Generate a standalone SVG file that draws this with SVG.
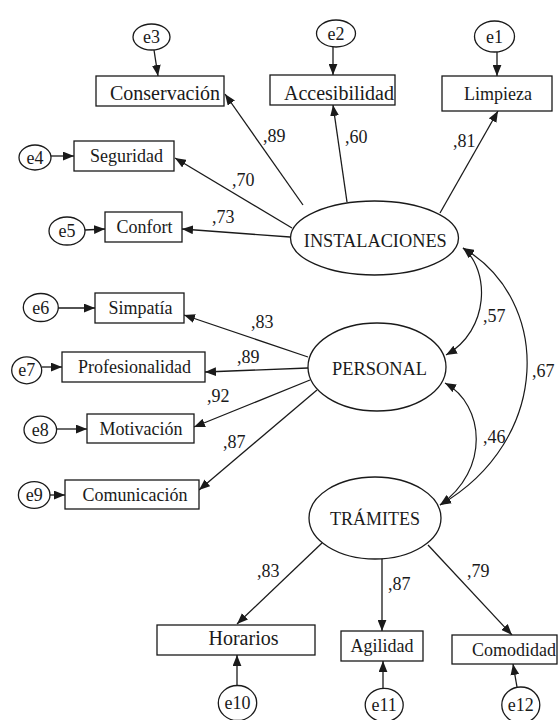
<svg xmlns="http://www.w3.org/2000/svg" width="558" height="720" viewBox="0 0 558 720" font-family="'Liberation Serif', Tinos, 'Times New Roman', 'DejaVu Serif', serif">
<style>
text{font-family:'Liberation Serif',Tinos,'Times New Roman','DejaVu Serif',serif;font-size:18px;fill:#1a1a1a}
.c{text-anchor:middle}
.big{font-size:20px}
.cap{font-size:19.5px}
.b{fill:#fff;stroke:#1a1a1a;stroke-width:1.3}
.l{fill:none;stroke:#1a1a1a;stroke-width:1.3;marker-end:url(#ah)}
.d{fill:none;stroke:#1a1a1a;stroke-width:1.2;marker-end:url(#ah);marker-start:url(#ah)}
</style>
<defs>
<marker id="ah" viewBox="0 0 10 8" refX="10" refY="4" markerWidth="11" markerHeight="9" markerUnits="userSpaceOnUse" orient="auto-start-reverse">
<path d="M0,0 L10,4 L0,8 Z" fill="#1a1a1a"/>
</marker>
</defs>
<g id="connectors">
<line class="l" x1="303" y1="205" x2="225" y2="94"/>
<line class="l" x1="347" y1="202" x2="333" y2="105"/>
<line class="l" x1="440" y1="213" x2="498" y2="111"/>
<line class="l" x1="292" y1="228" x2="175" y2="158"/>
<line class="l" x1="290" y1="237" x2="182" y2="229"/>
<line class="l" x1="308" y1="357" x2="184" y2="315"/>
<line class="l" x1="308" y1="368" x2="205" y2="372"/>
<line class="l" x1="310" y1="380" x2="194" y2="427"/>
<line class="l" x1="317" y1="390" x2="199" y2="490"/>
<line class="l" x1="322" y1="543" x2="237" y2="624"/>
<line class="l" x1="382" y1="558" x2="382" y2="631"/>
<line class="l" x1="428" y1="545" x2="512" y2="635"/>
<line class="l" x1="154" y1="50" x2="158" y2="76"/>
<line class="l" x1="333" y1="47" x2="333" y2="75"/>
<line class="l" x1="497" y1="52" x2="497" y2="76"/>
<line class="l" x1="51" y1="156" x2="74" y2="156"/>
<line class="l" x1="85" y1="230" x2="105" y2="229"/>
<line class="l" x1="58" y1="308" x2="95" y2="308"/>
<line class="l" x1="42" y1="367" x2="62" y2="367"/>
<line class="l" x1="57" y1="429" x2="87" y2="429"/>
<line class="l" x1="50" y1="495" x2="65" y2="495"/>
<line class="l" x1="237" y1="685" x2="237" y2="655"/>
<line class="l" x1="383" y1="688" x2="383" y2="661"/>
<line class="l" x1="517" y1="687" x2="513" y2="664"/>
<path class="d" d="M463,248 C490,270 490,330 446,355"/>
<path class="d" d="M463,248 C552,300 552,440 440,505"/>
<path class="d" d="M445,383 C485,405 490,470 440,505"/>
<text x="263" y="142">,89</text>
<text x="345" y="143">,60</text>
<text x="453" y="147">,81</text>
<text x="232" y="186">,70</text>
<text x="212" y="223">,73</text>
<text x="251" y="328">,83</text>
<text x="237" y="363">,89</text>
<text x="207" y="402">,92</text>
<text x="223" y="448">,87</text>
<text x="483" y="322">,57</text>
<text x="532" y="377">,67</text>
<text x="483" y="443">,46</text>
<text x="257" y="577">,83</text>
<text x="388" y="590">,87</text>
<text x="467" y="577">,79</text>
</g>
<g id="INSTALACIONES"><ellipse class="b" cx="374.5" cy="238" rx="84" ry="37"/><text class="c cap" x="375.3" y="246.5" textLength="143" lengthAdjust="spacingAndGlyphs">INSTALACIONES</text></g>
<g id="PERSONAL"><ellipse class="b" cx="377" cy="367" rx="69" ry="44"/><text class="c cap" x="379.5" y="374.5" textLength="95" lengthAdjust="spacingAndGlyphs">PERSONAL</text></g>
<g id="TRAMITES"><ellipse class="b" cx="375" cy="518" rx="66" ry="41"/><text class="c cap" x="375" y="525" textLength="90" lengthAdjust="spacingAndGlyphs">TRÁMITES</text></g>
<g id="Conservacion"><rect class="b" x="96" y="76" width="128" height="30"/><text class="c big" x="165" y="100">Conservación</text></g>
<g id="Accesibilidad"><rect class="b" x="270" y="75" width="125" height="30"/><text class="c big" x="339" y="99.5">Accesibilidad</text></g>
<g id="Limpieza"><rect class="b" x="442" y="76" width="110" height="35"/><text class="c" x="498" y="100">Limpieza</text></g>
<g id="Seguridad"><rect class="b" x="74" y="141" width="100" height="30"/><text class="c" x="126.5" y="162">Seguridad</text></g>
<g id="Confort"><rect class="b" x="105" y="212" width="77" height="30"/><text class="c" x="144.5" y="233">Confort</text></g>
<g id="Simpatia"><rect class="b" x="95" y="293" width="89" height="30"/><text class="c" x="140.5" y="314">Simpatía</text></g>
<g id="Profesionalidad"><rect class="b" x="62" y="352" width="143" height="30"/><text class="c" x="134.5" y="373">Profesionalidad</text></g>
<g id="Motivacion"><rect class="b" x="87" y="414" width="107" height="29"/><text class="c" x="141" y="434.5">Motivación</text></g>
<g id="Comunicacion"><rect class="b" x="65" y="480" width="134" height="29"/><text class="c" x="135" y="500.5">Comunicación</text></g>
<g id="Horarios"><rect class="b" x="157" y="625" width="158" height="30"/><text class="c big" x="243.5" y="644.5">Horarios</text></g>
<g id="Agilidad"><rect class="b" x="341" y="631" width="82" height="30"/><text class="c" x="382" y="652">Agilidad</text></g>
<g id="Comodidad"><rect class="b" x="452" y="635" width="105" height="29"/><text class="c" x="514" y="655.5">Comodidad</text></g>
<g id="e1"><ellipse class="b" cx="494.5" cy="36.5" rx="20" ry="15.5"/><text class="c" x="494.5" y="42.5">e1</text></g>
<g id="e2"><ellipse class="b" cx="336" cy="33.5" rx="19.5" ry="13.5"/><text class="c" x="336" y="39.5">e2</text></g>
<g id="e3"><ellipse class="b" cx="151.5" cy="37" rx="18.5" ry="13"/><text class="c" x="151.5" y="43">e3</text></g>
<g id="e4"><ellipse class="b" cx="35" cy="157.5" rx="16" ry="12.5"/><text class="c" x="35" y="163.5">e4</text></g>
<g id="e5"><ellipse class="b" cx="67" cy="231" rx="18" ry="14"/><text class="c" x="67" y="237">e5</text></g>
<g id="e6"><ellipse class="b" cx="40.8" cy="307.5" rx="17.5" ry="14"/><text class="c" x="40.8" y="313.5">e6</text></g>
<g id="e7"><ellipse class="b" cx="26.7" cy="370.3" rx="15" ry="13.5"/><text class="c" x="26.7" y="376.3">e7</text></g>
<g id="e8"><ellipse class="b" cx="40.3" cy="429.7" rx="16.3" ry="13.5"/><text class="c" x="40.3" y="435.7">e8</text></g>
<g id="e9"><ellipse class="b" cx="34.2" cy="495" rx="15.8" ry="13.3"/><text class="c" x="34.2" y="501">e9</text></g>
<g id="e10"><ellipse class="b" cx="237.5" cy="703" rx="19.2" ry="17.5"/><text class="c" x="237.5" y="709">e10</text></g>
<g id="e11"><ellipse class="b" cx="384.2" cy="705" rx="19" ry="16.7"/><text class="c" x="384.2" y="711">e11</text></g>
<g id="e12"><ellipse class="b" cx="520.8" cy="705" rx="19" ry="18"/><text class="c" x="520.8" y="711">e12</text></g>
</svg>
